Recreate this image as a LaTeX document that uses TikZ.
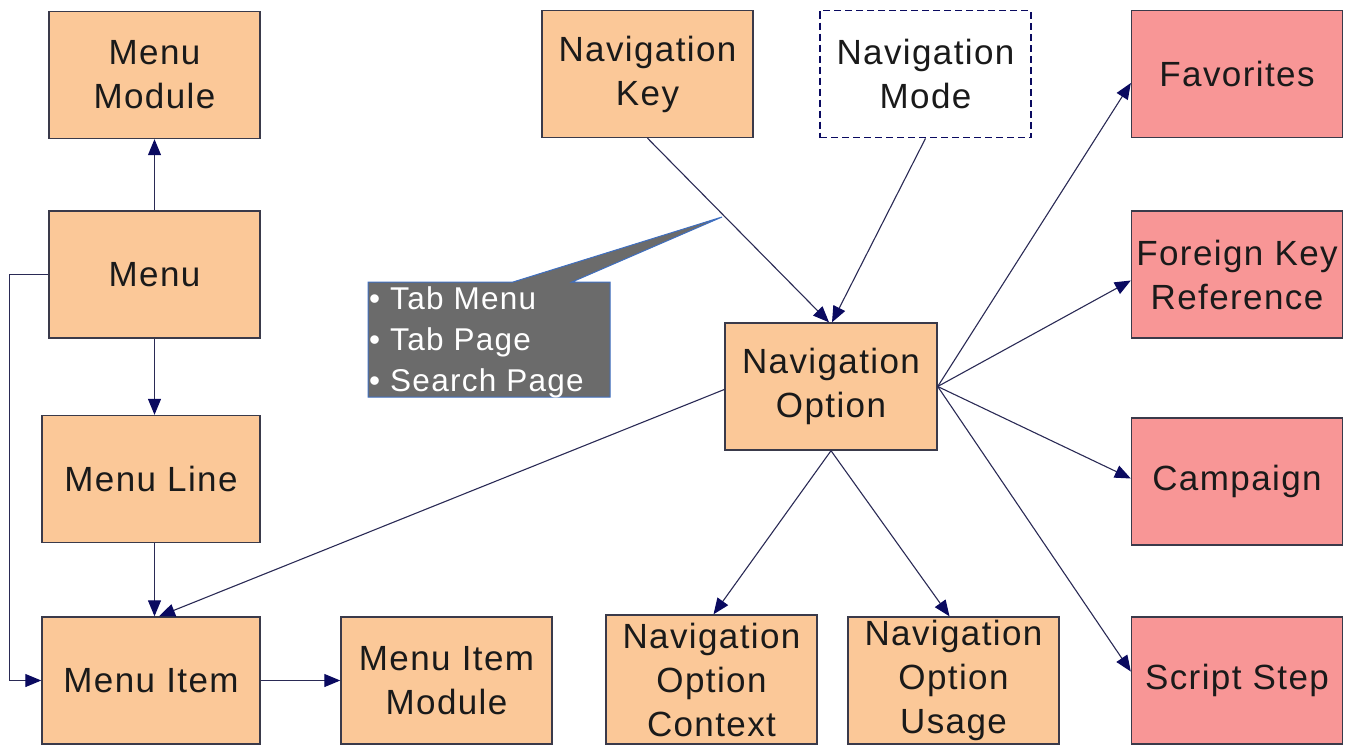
\documentclass[tikz,border=0pt]{standalone}
\usepackage{fontspec}
\setmainfont[LetterSpace=4]{Liberation Sans}
\usetikzlibrary{arrows.meta,calc}
\definecolor{peach}{HTML}{FBC898}
\definecolor{rose}{HTML}{F89696}
\definecolor{edge}{HTML}{3A3A4A}
\definecolor{navyline}{HTML}{2A2A55}
\definecolor{navyhead}{HTML}{0A0A60}
\definecolor{calloutfill}{HTML}{6B6B6B}
\definecolor{calloutedge}{HTML}{3F6FC0}
\definecolor{txt}{HTML}{1A1A1A}
\tikzset{
  box/.style={draw=edge, line width=1.4pt, minimum width=211pt, minimum height=127pt,
    inner sep=0pt, align=center, text=txt, font=\fontsize{35}{44}\selectfont},
  obox/.style={box, fill=peach},
  rbox/.style={box, fill=rose},
  dbox/.style={box, fill=white, draw=navyhead, dashed, dash pattern=on 7pt off 4pt, line width=1.8pt},
  arr/.style={draw=navyline, line width=1.1pt, -{Triangle[length=16pt,width=13pt,color=navyhead]}},
  plain/.style={draw=navyline, line width=1pt}
}
\begin{document}
\begin{tikzpicture}[x=1pt,y=-1pt]
\useasboundingbox (0,0) rectangle (1348,744);
% left column
\node[obox] (mmod) at (154.5,75) {Menu\\Module};
\node[obox] (menu) at (154.5,274.5) {Menu};
\node[obox, minimum width=218pt] (mline) at (151,479) {Menu Line};
\node[obox, minimum width=218pt] (mitem) at (151,680.5) {Menu Item};
\node[obox] (mimod) at (446.5,680.5) {Menu Item\\Module};
% middle
\node[obox] (navkey) at (647.5,74) {Navigation\\Key};
\node[dbox] (navmode) at (925.5,74) {Navigation\\Mode};
\node[obox, minimum width=212pt] (navopt) at (831,386.5) {Navigation\\Option};
\node[obox, minimum height=129pt] (ctx) at (711.5,679.5) {Navigation\\Option\\Context};
\node[obox] (usage) at (953.5,680.5) {Navigation\\Option\\Usage};
% right
\node[rbox] (fav) at (1237,74) {Favorites};
\node[rbox] (fkr) at (1237,274.5) {Foreign Key\\Reference};
\node[rbox] (camp) at (1237,481.5) {Campaign};
\node[rbox] (script) at (1237,680.5) {Script Step};
% callout
\coordinate (tip) at (722,217);
\draw[fill=calloutfill, draw=calloutedge, line width=1pt]
  (368,282) -- (513,282) -- (tip) -- (572,282) -- (610,282) -- (610,397) -- (368,397) -- cycle;
\node[anchor=north west, align=left, text=white, inner sep=0pt,
  font=\fontsize{31.5}{41}\selectfont] (callout) at (369,286)
  {• Tab Menu\\• Tab Page\\• Search Page};
% connectors
\draw[arr] (menu.north) -- (mmod.south);
\draw[arr] (menu.south) -- (menu.south |- mline.north);
\draw[arr] (menu.south |- mline.south) -- (menu.south |- mitem.north);
\draw[arr] (menu.west) -- ++(-39,0) |- (mitem.west);
\draw[arr] (mitem.east) -- (mimod.west);
\draw[arr] (navkey.south) -- ($(navopt.north)+(-2,0)$);
\draw[arr] (navmode.south) -- ($(navopt.north)+(1,0)$);
\draw[arr] ($(navopt.west)+(0,3)$) -- ($(mitem.north)+(8,0)$);
\draw[arr] (navopt.south) -- ($(ctx.north)+(2,0)$);
\draw[arr] (navopt.south) -- ($(usage.north)+(-4,0)$);
\draw[arr] (navopt.east) -- ($(fav.west)+(0,9)$);
\draw[arr] (navopt.east) -- ($(fkr.west)+(0,6)$);
\draw[arr] (navopt.east) -- ($(camp.west)+(0,-3)$);
\draw[arr] (navopt.east) -- ($(script.west)+(0,-9)$);
\end{tikzpicture}
\end{document}
